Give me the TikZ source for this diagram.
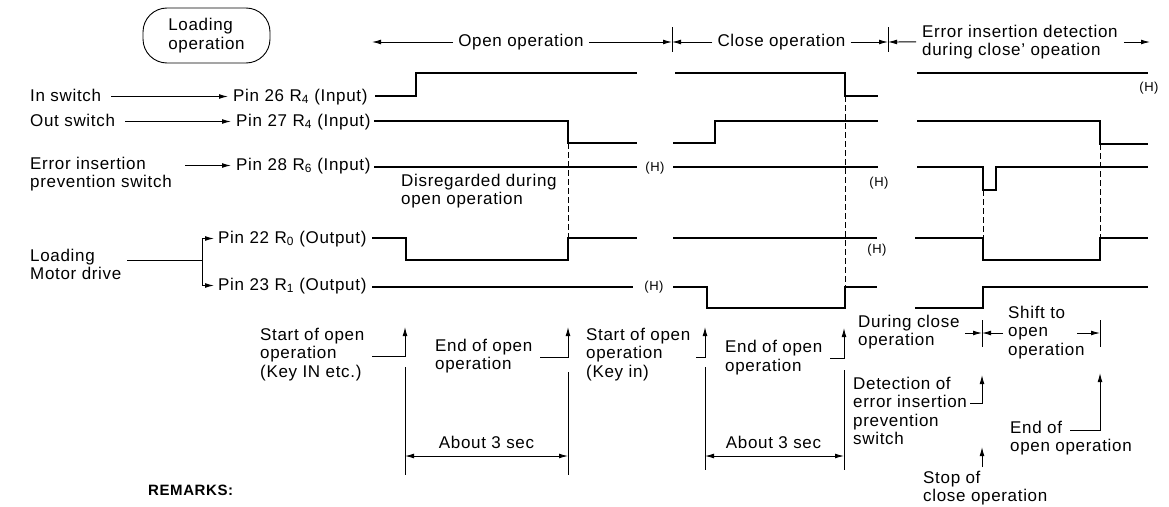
\documentclass[tikz,border=0pt]{standalone}
\usepackage{fontspec}
\setmainfont{Liberation Sans}[LetterSpace=4]
\usetikzlibrary{arrows.meta}
\newcommand{\ldText}{\fontsize{17}{18.5}\selectfont}
\newcommand{\ldSmall}{\fontsize{13}{15}\selectfont}
\newcommand{\ldBold}{\fontsize{15}{17}\selectfont\bfseries}
\begin{document}
\begin{tikzpicture}[x=1pt,y=-1pt,
  lbl/.style={font=\ldText, inner sep=0pt, text height=12.5pt, text depth=3.5pt, anchor=base west},
  note/.style={font=\ldText, inner sep=0pt, align=left, anchor=north west},
  hmark/.style={font=\ldSmall, inner sep=0pt},
  sig/.style={line width=2pt},
  lead/.style={line width=0.9pt},
  arr/.style={lead, -{Latex[length=9pt,width=4.8pt]}},
  dim/.style={lead, {Latex[length=9pt,width=4.8pt]}-{Latex[length=9pt,width=4.8pt]}},
  guide/.style={line width=0.7pt, dash pattern=on 6pt off 3pt}]
\useasboundingbox (0,0) rectangle (1169,506);
\node[draw, lead, rounded corners=24pt, minimum width=127pt, minimum height=55pt, font=\ldText, align=left] (loadBox) at (206.5,35.5) {Loading\\operation};
\node[lbl, anchor=base, inner xsep=5pt] (openLbl) at (521,46.5) {Open operation};
\node[lbl, anchor=base, inner xsep=5pt] (closeLbl) at (781.5,46.5) {Close operation};
\node[note, inner xsep=6pt] (errLbl) at (916,24.5) {Error insertion detection\\during close' opeation};
\coordinate (openEnd) at (372,42);
\coordinate (tickOC) at (672,42);
\coordinate (tickCE) at (888,42);
\coordinate (errEnd) at (1150,42);
\draw[arr] (openLbl.west) -- (openEnd);
\draw[arr] (openLbl.east) -- (tickOC);
\draw[arr] (closeLbl.west) -- (tickOC);
\draw[arr] (closeLbl.east) -- (tickCE);
\draw[arr] (errLbl.west) -- (tickCE);
\draw[arr] (errLbl.east |- errEnd) -- (errEnd);
\draw[lead] (tickOC) +(0,-15) -- +(0,10);
\draw[lead] (tickCE) +(0,-15) -- +(0,10);
\node[lbl] (inSwitch) at (30,101) {In switch};
\node[lbl] (pin26) at (233,101) {Pin 26 R\textsubscript{4} (Input)};
\draw[arr] ([xshift=10pt]inSwitch.east) -- ([xshift=-5pt]pin26.west);
\node[lbl] (outSwitch) at (30,126) {Out switch};
\node[lbl] (pin27) at (236,126) {Pin 27 R\textsubscript{4} (Input)};
\draw[arr] ([xshift=10pt]outSwitch.east) -- ([xshift=-5pt]pin27.west);
\node[note] (errSwitch) at (30,156.5) {Error insertion\\prevention switch};
\node[lbl] (pin28) at (236,170) {Pin 28 R\textsubscript{6} (Input)};
\coordinate (errFrom) at (185,165.5);
\draw[arr] (errFrom) -- ([xshift=-5pt]pin28.west);
\node[note] (motorDrive) at (30,248.5) {Loading\\Motor drive};
\node[lbl] (pin22) at (218,243) {Pin 22 R\textsubscript{0} (Output)};
\node[lbl] (pin23) at (218,290) {Pin 23 R\textsubscript{1} (Output)};
\coordinate (motorOut) at (127,260);
\coordinate (motorFork) at (202,260);
\draw[lead] (motorOut) -- (motorFork);
\draw[arr, shorten >=4pt] (motorFork) |- (pin22.west);
\draw[arr, shorten >=4pt] (motorFork) |- (pin23.west);
\draw[sig] (375,96) -- (416,96) -- (416,73) -- (637,73);
\draw[sig] (675,73) -- (845,73) -- (845,96) -- (878,96);
\draw[sig] (917,73) -- (1148,73);
\draw[sig] (374,121) -- (568,121) -- (568,143) -- (637,143);
\draw[sig] (673,143) -- (715,143) -- (715,121) -- (878,121);
\draw[sig] (917,121) -- (1100,121) -- (1100,144) -- (1148,144);
\draw[sig] (374,167) -- (637,167);
\draw[sig] (673,167) -- (878,167);
\draw[sig] (917,167) -- (983,167) -- (983,190) -- (996,190) -- (996,167) -- (1148,167);
\draw[sig] (372,238) -- (406,238) -- (406,260) -- (568,260) -- (568,238) -- (637,238);
\draw[sig] (673,238) -- (877,238);
\draw[sig] (915,238) -- (983,238) -- (983,260) -- (1100,260) -- (1100,238) -- (1148,238);
\draw[sig] (372,287) -- (633,287);
\draw[sig] (673,287) -- (707,287) -- (707,308) -- (845,308) -- (845,287) -- (877,287);
\draw[sig] (915,308) -- (983,308) -- (983,287) -- (1148,287);
\draw[guide] (568,143) -- (568,238);
\draw[guide] (845,96) -- (845,287);
\draw[guide] (983,190) -- (983,238);
\draw[guide] (1100,144) -- (1100,238);
\node[hmark] (hIn) at (1149,88) {(H)};
\node[hmark] (hErrA) at (655,168) {(H)};
\node[hmark] (hErrB) at (879,183) {(H)};
\node[hmark] (hPinA) at (877,250) {(H)};
\node[hmark] (hPinB) at (654,287) {(H)};
\node[note] (disreg) at (401,173.5) {Disregarded during\\open operation};
\node[note] (startA) at (260,327.5) {Start of open\\operation\\(Key IN etc.)};
\coordinate (hookA) at (372,356);
\coordinate (tipA) at (405,327);
\draw[arr] (hookA) -| (tipA);
\draw[lead] (405,367) -- (405,475);
\node[note] (endA) at (435,338.5) {End of open\\operation};
\coordinate (hookB) at (540,357);
\coordinate (tipB) at (568,327);
\draw[arr] (hookB) -| (tipB);
\draw[lead] (568,372) -- (568,475);
\draw[dim] (405,456) -- (568,456);
\node[lbl, anchor=base] (aboutA) at (486.5,448) {About 3 sec};
\node[note] (startB) at (586,327.5) {Start of open\\operation\\(Key in)};
\coordinate (hookC) at (696,357);
\coordinate (tipC) at (705,327);
\draw[arr] (hookC) -| (tipC);
\draw[lead] (705,367) -- (705,470);
\node[note] (endB) at (725,340) {End of open\\operation};
\coordinate (hookD) at (830,358);
\coordinate (tipD) at (844,328);
\draw[arr] (hookD) -| (tipD);
\draw[lead] (844,370) -- (844,470);
\draw[dim] (705,456) -- (844,456);
\node[lbl, anchor=base] (aboutB) at (773.5,448) {About 3 sec};
\node[note] (during) at (858,314.5) {During close\\operation};
\coordinate (tickS1) at (982,333);
\coordinate (tickS2) at (1100,333);
\coordinate (duringTo) at (965,333);
\coordinate (shiftFrom) at (1003,333);
\coordinate (shiftTo) at (1077,333);
\draw[arr] (duringTo) -- (tickS1);
\draw[arr] (shiftFrom) -- (tickS1);
\draw[arr] (shiftTo) -- (tickS2);
\draw[lead] (tickS1) +(0,-13) -- +(0,14);
\draw[lead] (tickS2) +(0,-13) -- +(0,14);
\node[note] (shiftOpen) at (1008,305.5) {Shift to\\open\\operation};
\node[note] (detect) at (853,376.5) {Detection of\\error insertion\\prevention\\switch};
\coordinate (hookE) at (970,403);
\coordinate (tipE) at (982,375);
\draw[arr] (hookE) -| (tipE);
\node[note] (stopClose) at (923,470.5) {Stop of\\close operation};
\coordinate (stopFrom) at (982,467);
\coordinate (stopTip) at (982,447);
\draw[arr] (stopFrom) -- (stopTip);
\node[note] (endOpen) at (1010,420.5) {End of\\open operation};
\coordinate (hookF) at (1070,430);
\coordinate (tipF) at (1100,373);
\draw[arr] (hookF) -| (tipF);
\node[font=\ldBold, anchor=base west, inner sep=0pt] (remarks) at (148,495) {REMARKS:};
\end{tikzpicture}
\end{document}
